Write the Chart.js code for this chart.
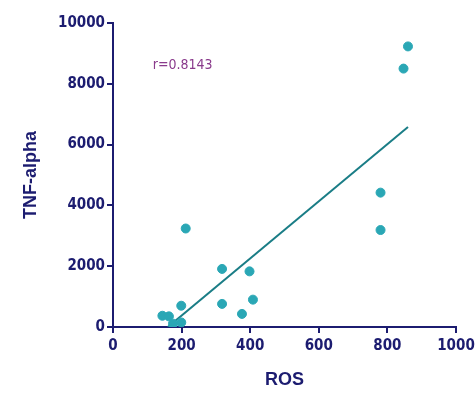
<!DOCTYPE html>
<html>
<head>
<meta charset="utf-8">
<script src="https://cdn.jsdelivr.net/npm/chart.js@4.4.0/dist/chart.umd.min.js"></script>
<style>
  html, body { margin: 0; padding: 0; background: #fff; }
  #wrap { width: 475px; height: 395px; }
</style>
</head>
<body>
<div id="wrap"><canvas id="myChart" width="475" height="395"></canvas></div>
<script>
// values
var rosValues = [860, 847, 780, 780, 212, 318, 398, 318, 408, 376, 199, 144, 163, 175, 199];
var tnfValues = [9230, 8500, 4420, 3190, 3240, 1910, 1830, 760, 900, 430, 700, 370, 350, 110, 150];
var fitX = [160, 860];
var fitY = [0, 6580];
var xTicks = [0, 200, 400, 600, 800, 1000];
var yTicks = [0, 2000, 4000, 6000, 8000, 10000];
var rLabel = 'r=0.8143';

var navy = '#1c1c70';
var tickFont = { family: "'DejaVu Sans Condensed', 'Liberation Sans Narrow', 'Liberation Sans', Arial", size: 15, weight: 'bold' };

var points = rosValues.map(function (x, i) { return { x: x, y: tnfValues[i] }; });
var fitLine = fitX.map(function (x, i) { return { x: x, y: fitY[i] }; });

var rText = {
  id: 'rText',
  afterDatasetsDraw: function (chart) {
    var c = chart.ctx;
    var px = chart.scales.x.getPixelForValue(116);
    var py = chart.scales.y.getPixelForValue(8600);
    c.save();
    c.fillStyle = '#8a3b8c';
    c.font = "14px 'DejaVu Sans Condensed', 'Liberation Sans Narrow', 'Liberation Sans', Arial";
    c.textBaseline = 'middle';
    c.fillText(rLabel, px, py);
    c.restore();
  }
};

var ctx = document.getElementById('myChart').getContext('2d');
var chart = new Chart(ctx, {
  type: 'scatter',
  data: {
    datasets: [{
      label: 'data',
      data: points,
      backgroundColor: '#2aa7b5',
      borderColor: '#2aa7b5',
      pointRadius: 4.5,
      pointHoverRadius: 4.5
    }, {
      label: 'fit',
      data: fitLine,
      showLine: true,
      borderColor: '#1a7d86',
      borderWidth: 2,
      pointRadius: 0,
      fill: false
    }]
  },
  options: {
    responsive: false,
    animation: false,
    layout: { padding: { top: 23, right: 19, left: 16, bottom: 0 } },
    plugins: { legend: { display: false }, tooltip: { enabled: false } },
    scales: {
      x: {
        type: 'linear',
        min: 0, max: 1000,
        afterBuildTicks: function (s) { s.ticks = xTicks.map(function (v) { return { value: v }; }); },
        afterFit: function (s) { s.height = 68; s.paddingRight = 0; s.paddingLeft = 0; },
        border: { color: navy, width: 2 },
        grid: { drawOnChartArea: false, color: navy, lineWidth: 2, tickLength: 6 },
        ticks: { color: navy, font: tickFont, padding: 4, maxRotation: 0, callback: function (v) { return String(v); } },
        title: { display: true, text: 'ROS', color: navy, font: { family: "'Liberation Sans', Arial", size: 18, weight: 'bold' }, padding: { top: 8 } }
      },
      y: {
        type: 'linear',
        min: 0, max: 10000,
        afterBuildTicks: function (s) { s.ticks = yTicks.map(function (v) { return { value: v }; }); },
        afterFit: function (s) { s.width = 97; },
        border: { color: navy, width: 2 },
        grid: { drawOnChartArea: false, color: navy, lineWidth: 2, tickLength: 6 },
        ticks: { color: navy, font: tickFont, padding: 2, callback: function (v) { return String(v); } },
        title: { display: true, text: 'TNF-alpha', color: navy, font: { family: "'Liberation Sans', Arial", size: 18, weight: 'bold' }, padding: { bottom: 10 } }
      }
    }
  },
  plugins: [rText]
});
</script>
</body>
</html>
